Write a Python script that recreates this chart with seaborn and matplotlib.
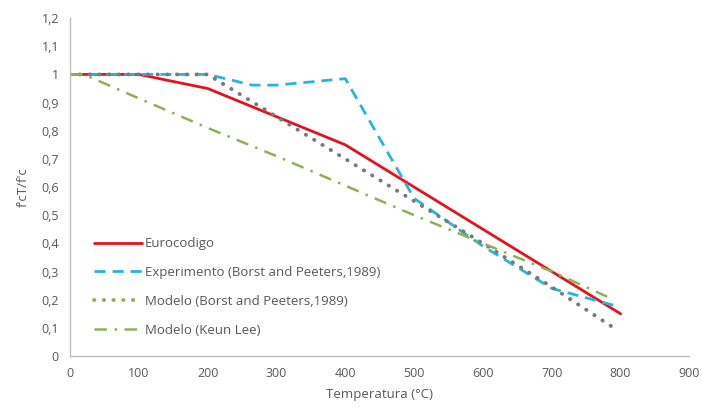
import matplotlib
matplotlib.use("Agg")
import matplotlib.pyplot as plt
import seaborn as sns
import pandas as pd

sns.set_theme(style="white")
plt.rcParams['font.family'] = ['Open Sans', 'DejaVu Sans']

euro_t = [0, 100, 200, 300, 400, 500, 600, 700, 800]
euro_v = [1.0, 1.0, 0.95, 0.85, 0.75, 0.60, 0.45, 0.30, 0.15]

exp_t = [0, 100, 200, 265, 300, 400, 500, 600, 700, 790]
exp_v = [1.0, 1.0, 1.0, 0.962, 0.962, 0.985, 0.56, 0.39, 0.24, 0.18]

borst_t = [0, 100, 200, 300, 400, 500, 600, 700, 790]
borst_v = [1.0, 1.0, 1.0, 0.85, 0.70, 0.55, 0.40, 0.245, 0.10]

keun_t = [0, 20, 100, 200, 300, 400, 500, 600, 700, 790]
keun_v = [1.0, 1.0, 0.915, 0.81, 0.71, 0.605, 0.50, 0.40, 0.30, 0.20]

labels = ["Eurocodigo", "Experimento (Borst and Peeters,1989)",
          "Modelo (Borst and Peeters,1989)", "Modelo (Keun Lee)"]
xticks = [0, 100, 200, 300, 400, 500, 600, 700, 800, 900]
yticks = [0, 0.1, 0.2, 0.3, 0.4, 0.5, 0.6, 0.7, 0.8, 0.9, 1.0, 1.1, 1.2]

fig = plt.figure(figsize=(7.03, 4.12), dpi=100)
ax = fig.add_axes([0.0996, 0.136, 0.881, 0.820])

red = "#E3121E"
cyan = "#2BB3DE"
gray = "#7A7A7A"
green = "#8DB256"

sns.lineplot(x=euro_t, y=euro_v, ax=ax, color=red, lw=2.0, label=labels[0])
sns.lineplot(x=exp_t, y=exp_v, ax=ax, color=cyan, lw=2.0, label=labels[1])
ax.lines[-1].set_dashes([4, 2.5])
sns.lineplot(x=borst_t, y=borst_v, ax=ax, color=gray, lw=2.8, label=labels[2])
ax.lines[-1].set_dashes([0.1, 2.4])
ax.lines[-1].set_dash_capstyle('round')
sns.lineplot(x=keun_t, y=keun_v, ax=ax, color=green, lw=1.8, label=labels[3])
ax.lines[-1].set_dashes([5, 3, 1, 3])

ax.set_xlim(0, 900)
ax.set_ylim(0, 1.2)
ax.set_xticks(xticks)
ax.set_yticks(yticks)
ax.set_xticklabels([str(t) for t in xticks])
ax.set_yticklabels([("%g" % v).replace(".", ",") for v in yticks])
ax.tick_params(axis='both', length=0, labelsize=9, labelcolor="#595959", pad=8)

for s in ["top", "right"]:
    ax.spines[s].set_visible(False)
for s in ["left", "bottom"]:
    ax.spines[s].set_color("#BFBFBF")
    ax.spines[s].set_linewidth(1.0)

ax.set_xlabel("Temperatura (°C)", fontsize=9.5, color="#595959", labelpad=6)
ax.set_ylabel("f'cT/f'c", fontsize=9.5, color="#595959", labelpad=8)

leg = ax.legend(loc="lower left", bbox_to_anchor=(0.02, 0.022), frameon=False,
                fontsize=9.5, labelspacing=1.2, handlelength=3.6, handletextpad=0.25)
for t in leg.get_texts():
    t.set_color("#595959")
h = leg.legend_handles
h[2].set_color(green)

fig.savefig("out.png", dpi=100)
